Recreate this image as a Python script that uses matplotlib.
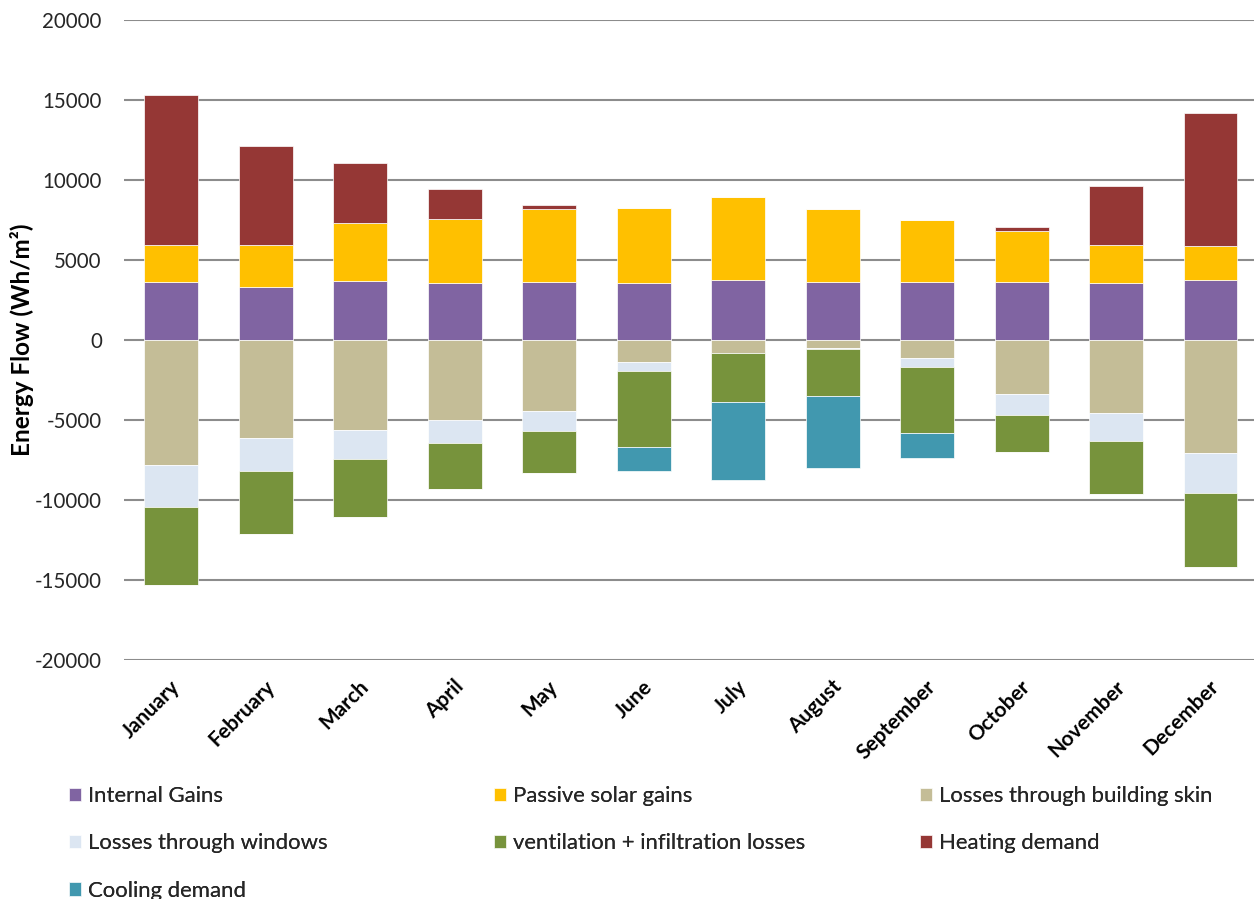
import numpy as np
import matplotlib
matplotlib.use("Agg")
import matplotlib.pyplot as plt
import matplotlib.transforms as mtransforms

plt.rcParams['font.family'] = ['Lato', 'DejaVu Sans']

months = ['January', 'February', 'March', 'April', 'May', 'June', 'July',
          'August', 'September', 'October', 'November', 'December']

# gains (Wh/m2)
internal = [3650, 3330, 3710, 3560, 3650, 3560, 3730, 3650, 3650, 3650, 3560, 3730]
solar = [2310, 2630, 3620, 4000, 4560, 4710, 5190, 4560, 3830, 3185, 2400, 2170]
heating = [9340, 6160, 3750, 1860, 250, 0, 0, 0, 0, 250, 3690, 8310]
# losses (Wh/m2)
skin = [-7790, -6100, -5625, -5000, -4440, -1400, -810, -500, -1150, -3400, -4580, -7085]
windows = [-2650, -2090, -1835, -1440, -1270, -550, -30, -80, -540, -1270, -1750, -2475]
vent = [-4870, -3910, -3620, -2870, -2620, -4750, -3035, -2900, -4100, -2310, -3295, -4630]
cooling = [0, 0, 0, 0, 0, -1500, -4875, -4540, -1610, 0, 0, 0]

yticks = [-20000, -15000, -10000, -5000, 0, 5000, 10000, 15000, 20000]

pos_series = [('Internal Gains', internal, '#8064A2'),
              ('Passive solar gains', solar, '#FFC000'),
              ('Heating demand', heating, '#953735')]
neg_series = [('Losses through building skin', skin, '#C4BD97'),
              ('Losses through windows', windows, '#DCE6F2'),
              ('ventilation + infiltration losses', vent, '#77933C'),
              ('Cooling demand', cooling, '#4198AF')]

fig = plt.figure(figsize=(12.54, 8.99), dpi=100)
ax = fig.add_axes([124/1254, 1 - 660/899, 1 - 124/1254, 640/899])

x = np.arange(len(months))
w = 0.57
bars = {}
bottom = np.zeros(len(months))
for name, vals, col in pos_series:
    v = np.array(vals, dtype=float)
    bars[name] = ax.bar(x, v, w, bottom=bottom, color=col, edgecolor='white',
                        linewidth=0.5, zorder=3)
    bottom += v
bottom = np.zeros(len(months))
for name, vals, col in neg_series:
    v = np.array(vals, dtype=float)
    bars[name] = ax.bar(x, v, w, bottom=bottom, color=col, edgecolor='white',
                        linewidth=0.5, zorder=3)
    bottom += v

ax.set_ylim(-20000, 20000)
ax.set_xlim(-0.5, 11.46)
ax.set_yticks(yticks)
ax.set_yticklabels([str(t) for t in yticks], fontsize=14.8, color='#262626')
ax.yaxis.grid(True, color='#8c8c8c', linewidth=1.5, zorder=0)
ax.set_axisbelow(True)
ax.tick_params(axis='both', length=0)
ax.tick_params(axis='y', pad=16)
for s in ax.spines.values():
    s.set_visible(False)

ax.set_xticks(x)
ax.set_xticklabels(months, rotation=45, ha='right', va='center',
                   rotation_mode='anchor', fontsize=15, fontweight='bold')
ax.tick_params(axis='x', pad=17)
offset = mtransforms.ScaledTranslation(4/72, 0, fig.dpi_scale_trans)
for lab in ax.get_xticklabels():
    lab.set_transform(lab.get_transform() + offset)

ax.set_ylabel('Energy Flow (Wh/m²)', fontsize=17.5, fontweight='bold')
ax.yaxis.set_label_coords(-90/1130, 0.5)

# legend, three columns placed like the original
cols = [['Internal Gains', 'Losses through windows', 'Cooling demand'],
        ['Passive solar gains', 'ventilation + infiltration losses'],
        ['Losses through building skin', 'Heating demand']]
col_x = [69, 494, 920]
for names, cx in zip(cols, col_x):
    leg = fig.legend([bars[n] for n in names], names, loc='upper left',
                     bbox_to_anchor=(cx/1254, 1 - 786/899), frameon=False,
                     fontsize=15.9, handlelength=0.55, handleheight=0.55,
                     handletextpad=0.32, labelspacing=1.24, borderpad=0,
                     borderaxespad=0)
    for t in leg.get_texts():
        t.set_color('#262626')
    fig.add_artist(leg)

fig.savefig('out.png', dpi=100)
